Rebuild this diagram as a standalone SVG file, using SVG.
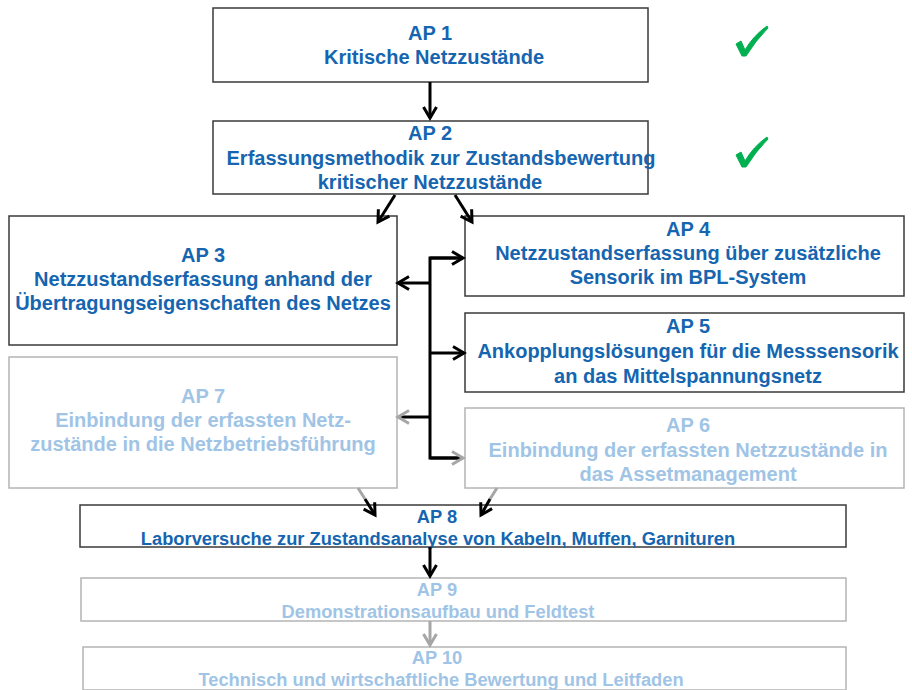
<svg xmlns="http://www.w3.org/2000/svg" width="912" height="690" viewBox="0 0 912 690">
  <style>
    .box { fill: #ffffff; stroke: #3a3a3a; stroke-width: 1.5; }
    .box-dim { fill: #ffffff; stroke: #b4b4b4; stroke-width: 1.5; }
    .t { font-family: "Liberation Sans", Arial, sans-serif; font-weight: bold; font-size: 20px; fill: #1565b0; text-anchor: middle; }
    .t-dim { font-family: "Liberation Sans", Arial, sans-serif; font-weight: bold; font-size: 20px; fill: #9fc4e6; text-anchor: middle; }
    .s { font-size: 18.3px; }
    .c { fill: none; stroke: #000000; stroke-width: 3; }
    .c-dim { fill: none; stroke: #a6a6a6; stroke-width: 3; }
    .check { fill: #00b050; stroke: #00b050; stroke-width: 1; stroke-linejoin: round; }
  </style>
  <defs>
    <marker id="head" markerWidth="16" markerHeight="16" refX="13" refY="8" orient="auto" markerUnits="userSpaceOnUse">
      <path d="M2,1.5 L13,8 L2,14.5" fill="none" stroke="#000000" stroke-width="3"/>
    </marker>
    <marker id="head-dim" markerWidth="16" markerHeight="16" refX="13" refY="8" orient="auto" markerUnits="userSpaceOnUse">
      <path d="M2,1.5 L13,8 L2,14.5" fill="none" stroke="#a6a6a6" stroke-width="3"/>
    </marker>
  </defs>

  <rect width="912" height="690" fill="#ffffff"/>

  <g id="ap1">
    <rect class="box" x="213" y="8" width="435" height="74"/>
    <text class="t" x="430" y="40">AP 1</text>
    <text class="t" x="434" y="64">Kritische Netzzustände</text>
  </g>
  <g id="ap2">
    <rect class="box" x="213" y="121" width="435" height="73"/>
    <text class="t" x="430" y="140">AP 2</text>
    <text class="t" x="441" y="165">Erfassungsmethodik zur Zustandsbewertung</text>
    <text class="t" x="430" y="189">kritischer Netzzustände</text>
  </g>
  <g id="ap3">
    <rect class="box" x="9" y="216" width="388" height="129"/>
    <text class="t" x="203" y="262">AP 3</text>
    <text class="t" x="203" y="286">Netzzustandserfassung anhand der</text>
    <text class="t" x="203" y="310">Übertragungseigenschaften des Netzes</text>
  </g>
  <g id="ap4">
    <rect class="box" x="465" y="216" width="439" height="80"/>
    <text class="t" x="688" y="236">AP 4</text>
    <text class="t" x="688" y="260">Netzzustandserfassung über zusätzliche</text>
    <text class="t" x="688" y="284">Sensorik im BPL-System</text>
  </g>
  <g id="ap5">
    <rect class="box" x="465" y="313" width="439" height="79"/>
    <text class="t" x="688" y="333">AP 5</text>
    <text class="t" x="688" y="358">Ankopplungslösungen für die Messsensorik</text>
    <text class="t" x="688" y="383">an das Mittelspannungsnetz</text>
  </g>
  <g id="ap7">
    <rect class="box-dim" x="9" y="357" width="388" height="131"/>
    <text class="t-dim" x="203" y="403">AP 7</text>
    <text class="t-dim" x="203" y="427">Einbindung der erfassten Netz-</text>
    <text class="t-dim" x="203" y="451">zustände in die Netzbetriebsführung</text>
  </g>
  <g id="ap6">
    <rect class="box-dim" x="465" y="408" width="439" height="80"/>
    <text class="t-dim" x="688" y="432">AP 6</text>
    <text class="t-dim" x="688" y="457">Einbindung der erfassten Netzzustände in</text>
    <text class="t-dim" x="688" y="481">das Assetmanagement</text>
  </g>
  <g id="ap8">
    <rect class="box" x="80" y="505" width="766" height="42"/>
    <text class="t s" x="437" y="523">AP 8</text>
    <text class="t s" x="438" y="545">Laborversuche zur Zustandsanalyse von Kabeln, Muffen, Garnituren</text>
  </g>
  <g id="ap9">
    <rect class="box-dim" x="81" y="578" width="765" height="43"/>
    <text class="t-dim s" x="437" y="596">AP 9</text>
    <text class="t-dim s" x="438" y="618">Demonstrationsaufbau und Feldtest</text>
  </g>
  <g id="ap10">
    <rect class="box-dim" x="83" y="647" width="763" height="43"/>
    <text class="t-dim s" x="437" y="664">AP 10</text>
    <text class="t-dim s" x="441" y="686">Technisch und wirtschaftliche Bewertung und Leitfaden</text>
  </g>

  <!-- connectors, drawn over the boxes so heads overlap their edges -->
  <g id="connectors">
    <line class="c" x1="430" y1="82" x2="430" y2="118" marker-end="url(#head)"/>
    <line class="c" x1="395" y1="195" x2="378" y2="222" marker-end="url(#head)"/>
    <line class="c" x1="455" y1="195" x2="472" y2="222" marker-end="url(#head)"/>
    <!-- distribution bus -->
    <polyline class="c" points="462,258 430,258 430,458 460,458"/>
    <line class="c" x1="430" y1="258" x2="463" y2="258" marker-end="url(#head)"/>
    <line class="c" x1="430" y1="283" x2="398" y2="283" marker-end="url(#head)"/>
    <line class="c" x1="430" y1="353" x2="464" y2="353" marker-end="url(#head)"/>
    <line class="c" x1="430" y1="417" x2="398" y2="417" marker-end="url(#head-dim)"/>
    <line class="c" x1="430" y1="458" x2="463" y2="458" marker-end="url(#head-dim)"/>
    <!-- into AP 8 -->
    <line class="c-dim" x1="358" y1="488" x2="365" y2="499"/>
    <line class="c" x1="365" y1="499" x2="375" y2="515" marker-end="url(#head)"/>
    <line class="c-dim" x1="497" y1="488" x2="490" y2="499"/>
    <line class="c" x1="490" y1="499" x2="481" y2="515" marker-end="url(#head)"/>
    <line class="c" x1="430" y1="547" x2="430" y2="576" marker-end="url(#head)"/>
    <line class="c-dim" x1="430" y1="621" x2="430" y2="645" marker-end="url(#head-dim)"/>
  </g>

  <!-- completion marks -->
  <g id="done-ap1">
    <path class="check" d="M736,44 L741,41 L745,50 Q753,36 767,26 L768,28 Q756,40 746,56 L742,56 Z"/>
  </g>
  <g id="done-ap2">
    <path class="check" d="M736,155 L741,152 L745,161 Q753,147 767,137 L768,139 Q756,151 746,167 L742,167 Z"/>
  </g>
</svg>
